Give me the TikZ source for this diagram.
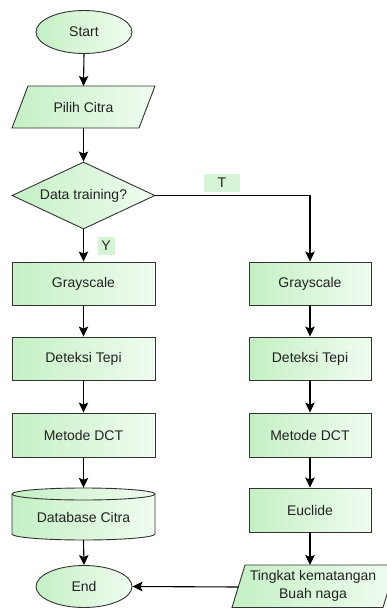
\documentclass[tikz,border=0pt]{standalone}
\usepackage{fontspec}
\setmainfont{Liberation Sans}
\usetikzlibrary{shapes.geometric,arrows.meta}
\definecolor{gA}{RGB}{196,240,196}
\definecolor{gB}{RGB}{240,252,240}
\definecolor{bd}{RGB}{51,51,51}
\definecolor{lbl}{RGB}{214,245,214}
\definecolor{txt}{RGB}{34,34,34}
\begin{document}
\begin{tikzpicture}[x=1pt,y=-1pt,
  font=\fontsize{14}{18}\selectfont,
  every node/.append style={text=txt},
  proc/.style={rectangle, draw=bd, line width=0.9pt, left color=gA, right color=gB, minimum width=143pt, minimum height=43pt, inner sep=0pt},
  procR/.style={proc, minimum width=122pt},
  term/.style={ellipse, draw=bd, line width=0.9pt, left color=gA, right color=gB, minimum width=96pt, minimum height=43pt, inner sep=0pt},
  dec/.style={diamond, draw=bd, line width=0.9pt, left color=gA, right color=gB, minimum width=143pt, minimum height=67pt, inner sep=0pt, aspect=2.13},
  shp/.style={draw=bd, line width=0.9pt, left color=gA, right color=gB},
  lab/.style={fill=lbl, inner sep=0pt, text=txt},
  flow/.style={draw=black, line width=1.1pt, -{Stealth[length=10pt,width=9.5pt,inset=2pt]}},
]
\useasboundingbox (0,0) rectangle (386,608);

% left column
\node[term] (start) at (84,32) {Start};

\shadedraw[shp] (28,86) -- (155,86) -- (139,128) -- (12,128) -- cycle;
\node[inner sep=0pt] (pilih) at (83.5,107) {Pilih Citra};
\coordinate (pilihN) at (83.5,86);
\coordinate (pilihS) at (83.5,128);

\node[dec] (dec) at (83.5,195.5) {Data training?};

\node[proc] (g1) at (83.5,283.5) {Grayscale};
\node[proc] (d1) at (83.5,358.5) {Deteksi Tepi};
\node[proc, minimum height=44pt] (m1) at (83.5,435) {Metode DCT};

\node[minimum width=143pt, minimum height=52pt, inner sep=0pt] (db) at (83.5,514) {};
\shadedraw[shp] (12,494) -- (12,534) arc[start angle=180, end angle=360, x radius=71.5pt, y radius=6pt]
  -- (155,494) arc[start angle=0, end angle=180, x radius=71.5pt, y radius=6pt] -- cycle;
\draw[draw=bd, line width=0.9pt] (12,494) arc[start angle=180, end angle=360, x radius=71.5pt, y radius=6pt];
\node at (83.5,517) {Database Citra};

\node[term, minimum height=42pt] (end) at (84,586.5) {End};

% right column
\node[procR] (g2) at (310,283.5) {Grayscale};
\node[procR] (d2) at (310,358.5) {Deteksi Tepi};
\node[procR, minimum height=44pt] (m2) at (310,435) {Metode DCT};
\node[procR, minimum height=44pt] (eu) at (310,510) {Euclide};

\shadedraw[shp] (245,565) -- (396,565) -- (383,607.5) -- (232,607.5) -- cycle;
\node[align=center, inner sep=0pt] (tk) at (313,586) {Tingkat kematangan\\Buah naga};
\coordinate (tkN) at (310,565);
\coordinate (tkW) at (238.5,587);

% labels
\node[lab, minimum width=36pt, minimum height=18pt] (T) at (222,183) {T};
\node[lab, minimum width=17pt, minimum height=18pt] (Y) at (106,246) {Y};

% connectors
\draw[flow] (start.south) -- (pilihN);
\draw[flow] (pilihS) -- (dec.north);
\draw[flow] (dec.south) -- (g1.north);
\draw[flow] (dec.east) -| (g2.north);
\draw[flow] (g1.south) -- (d1.north);
\draw[flow] (d1.south) -- (m1.north);
\draw[flow] (m1.south) -- (db.north);
\draw[flow] (db.south) -- (end.north);
\draw[flow] (g2.south) -- (d2.north);
\draw[flow] (d2.south) -- (m2.north);
\draw[flow] (m2.south) -- (eu.north);
\draw[flow] (eu.south) -- (tkN);
\draw[flow] (tkW) -- (end.east);
\end{tikzpicture}
\end{document}
